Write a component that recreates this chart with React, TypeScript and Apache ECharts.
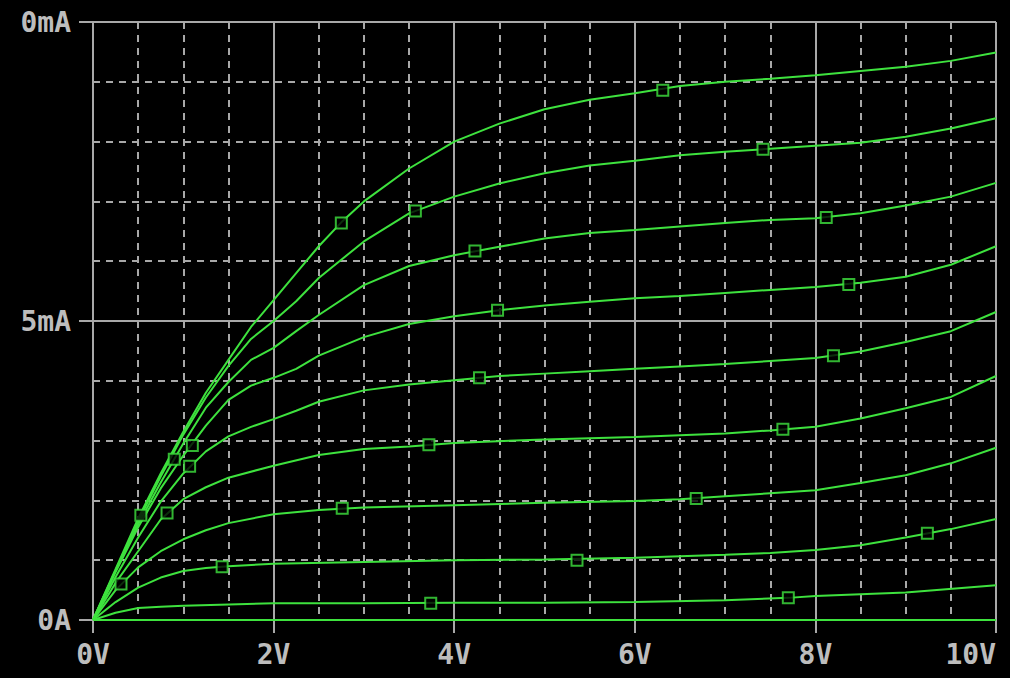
import React, { useEffect, useRef } from "react";
import * as echarts from "echarts";

const xTickLabels = ["0V", "2V", "4V", "6V", "8V", "10V"];
const yTickLabels = ["0A", "5mA", "0mA"];

// I-V curves: [V, mA]
const curve0 = [[0, 0], [10, 0]];
const curve1 = [[0, 0], [0.25, 0.12], [0.5, 0.2], [0.75, 0.22], [1, 0.24], [2, 0.28], [3, 0.28], [4, 0.29], [5, 0.29], [6, 0.3], [7, 0.33], [7.7, 0.37], [8, 0.4], [9, 0.46], [10, 0.58]];
const curve2 = [[0, 0], [0.25, 0.3], [0.5, 0.54], [0.75, 0.71], [1, 0.82], [1.25, 0.87], [1.5, 0.9], [2, 0.94], [3, 0.97], [4, 1.0], [5, 1.01], [6, 1.04], [7, 1.09], [7.5, 1.12], [8, 1.17], [8.5, 1.25], [9, 1.38], [9.5, 1.52], [10, 1.69]];
const curve3 = [[0, 0], [0.25, 0.5], [0.5, 0.88], [0.75, 1.15], [1, 1.35], [1.25, 1.5], [1.5, 1.62], [2, 1.77], [2.5, 1.84], [3, 1.88], [4, 1.92], [5, 1.96], [6, 1.99], [6.5, 2.02], [7, 2.07], [7.5, 2.12], [8, 2.17], [8.5, 2.29], [9, 2.42], [9.5, 2.62], [10, 2.88]];
const curve4 = [[0, 0], [0.25, 0.62], [0.5, 1.15], [0.75, 1.68], [1, 2.02], [1.25, 2.22], [1.5, 2.38], [2, 2.58], [2.5, 2.76], [3, 2.86], [3.5, 2.9], [4, 2.96], [5, 3.02], [6, 3.06], [7, 3.12], [7.5, 3.17], [8, 3.23], [8.5, 3.37], [9, 3.54], [9.5, 3.73], [10, 4.08]];
const curve5 = [[0, 0], [0.25, 0.72], [0.5, 1.38], [0.75, 1.98], [1, 2.45], [1.25, 2.82], [1.5, 3.07], [1.75, 3.23], [2, 3.36], [2.25, 3.5], [2.5, 3.65], [3, 3.84], [3.5, 3.94], [4, 4.01], [4.5, 4.08], [5, 4.12], [5.5, 4.16], [6, 4.2], [6.5, 4.24], [7, 4.28], [7.5, 4.33], [8, 4.38], [8.5, 4.49], [9, 4.65], [9.5, 4.83], [10, 5.15]];
const curve6 = [[0, 0], [0.25, 0.8], [0.5, 1.55], [0.75, 2.2], [1, 2.75], [1.25, 3.25], [1.5, 3.68], [1.75, 3.92], [2, 4.05], [2.25, 4.2], [2.5, 4.42], [3, 4.73], [3.5, 4.95], [4, 5.08], [4.5, 5.18], [5, 5.26], [5.5, 5.32], [6, 5.38], [6.5, 5.42], [7, 5.47], [7.5, 5.52], [8, 5.57], [8.5, 5.64], [9, 5.74], [9.5, 5.94], [10, 6.25]];
const curve7 = [[0, 0], [0.25, 0.82], [0.5, 1.6], [0.75, 2.3], [1, 2.95], [1.25, 3.55], [1.5, 3.98], [1.75, 4.35], [2, 4.55], [2.25, 4.83], [2.5, 5.1], [3, 5.6], [3.5, 5.92], [4, 6.1], [4.5, 6.24], [5, 6.38], [5.5, 6.47], [6, 6.52], [6.5, 6.58], [7, 6.64], [7.5, 6.69], [8, 6.72], [8.5, 6.8], [9, 6.93], [9.5, 7.08], [10, 7.31]];
const curve8 = [[0, 0], [0.25, 0.83], [0.5, 1.65], [0.75, 2.4], [1, 3.1], [1.25, 3.72], [1.5, 4.25], [1.75, 4.7], [2, 5.0], [2.25, 5.33], [2.5, 5.72], [3, 6.33], [3.5, 6.8], [4, 7.08], [4.5, 7.3], [5, 7.47], [5.5, 7.6], [6, 7.68], [6.5, 7.77], [7, 7.83], [7.5, 7.88], [8, 7.93], [8.5, 7.98], [9, 8.08], [9.5, 8.22], [10, 8.39]];
const curve9 = [[0, 0], [0.25, 0.85], [0.5, 1.7], [0.75, 2.45], [1, 3.15], [1.25, 3.8], [1.5, 4.35], [1.75, 4.9], [2, 5.35], [2.25, 5.8], [2.5, 6.25], [2.75, 6.65], [3, 7.0], [3.5, 7.55], [4, 8.0], [4.5, 8.3], [5, 8.54], [5.5, 8.7], [6, 8.81], [6.5, 8.93], [7, 9.0], [7.5, 9.05], [8, 9.11], [8.5, 9.18], [9, 9.25], [9.5, 9.35], [10, 9.49]];

const markerPoints = [
  [3.74, 0.28], [7.7, 0.37],
  [1.43, 0.89], [5.36, 1.0], [9.24, 1.45],
  [0.31, 0.6], [2.76, 1.87], [6.68, 2.03],
  [0.82, 1.79], [3.72, 2.93], [7.64, 3.19],
  [1.07, 2.57], [4.28, 4.05], [8.2, 4.42],
  [1.1, 2.92], [4.48, 5.18], [8.37, 5.61],
  [0.9, 2.69], [4.23, 6.17], [8.12, 6.73],
  [0.53, 1.75], [3.57, 6.84], [7.42, 7.87],
  [2.75, 6.64], [6.31, 8.86],
];

const curves = [curve0, curve1, curve2, curve3, curve4, curve5, curve6, curve7, curve8, curve9];

const GREEN = "#3ee23e";
const GREY = "#a8a8a8";
const LABEL = "#bdbdbd";
const FONT = "'DejaVu Sans Mono', monospace";

export default function App() {
  const ref = useRef<HTMLDivElement>(null);
  useEffect(() => {
    if (!ref.current) return;
    const chart = echarts.init(ref.current, null, { renderer: "svg" });
    const labelStyle = {
      color: LABEL,
      fontSize: 28,
      fontFamily: FONT,
      fontWeight: "bold" as const,
    };
    const option: any = {
      animation: false,
      backgroundColor: "#000",
      grid: { left: 93, right: 14, top: 22, bottom: 58, containLabel: false },
      xAxis: {
        type: "value",
        min: 0,
        max: 10,
        interval: 2,
        axisLine: { show: true, onZero: false, lineStyle: { color: GREY, width: 2 } },
        axisTick: { show: true, length: 13, lineStyle: { color: GREY, width: 2 } },
        axisLabel: {
          ...labelStyle,
          margin: 20,
          alignMaxLabel: "right",
          formatter: (v: number) => xTickLabels[Math.round(v / 2)],
        },
        splitLine: { show: true, lineStyle: { color: GREY, width: 2 } },
        minorTick: { show: false, splitNumber: 4 },
        minorSplitLine: { show: true, lineStyle: { color: GREY, width: 2, type: [7, 6] } },
      },
      yAxis: {
        type: "value",
        min: 0,
        max: 10,
        interval: 5,
        axisLine: { show: true, onZero: false, lineStyle: { color: GREY, width: 2 } },
        axisTick: { show: true, length: 14, lineStyle: { color: GREY, width: 2 } },
        axisLabel: {
          ...labelStyle,
          margin: 22,
          formatter: (v: number) => yTickLabels[Math.round(v / 5)],
        },
        splitLine: { show: true, lineStyle: { color: GREY, width: 2 } },
        minorTick: { show: false, splitNumber: 5 },
        minorSplitLine: { show: true, lineStyle: { color: GREY, width: 2, type: [7, 6] } },
      },
      series: [
        ...curves.map((c, i) => ({
          type: "line",
          name: "I" + i,
          data: c,
          showSymbol: false,
          symbol: "none",
          smooth: false,
          lineStyle: { color: GREEN, width: 2 },
          z: 3,
        })),
        {
          type: "scatter",
          name: "markers",
          data: markerPoints,
          symbol: "rect",
          symbolSize: 11,
          itemStyle: { color: "#000", borderColor: GREEN, borderWidth: 2 },
          z: 4,
        },
      ],
    };
    chart.setOption(option);
    return () => chart.dispose();
  }, []);
  return (
    <div
      ref={ref}
      style={{ position: "fixed", left: 0, top: 0, width: 1010, height: 678 }}
    />
  );
}
